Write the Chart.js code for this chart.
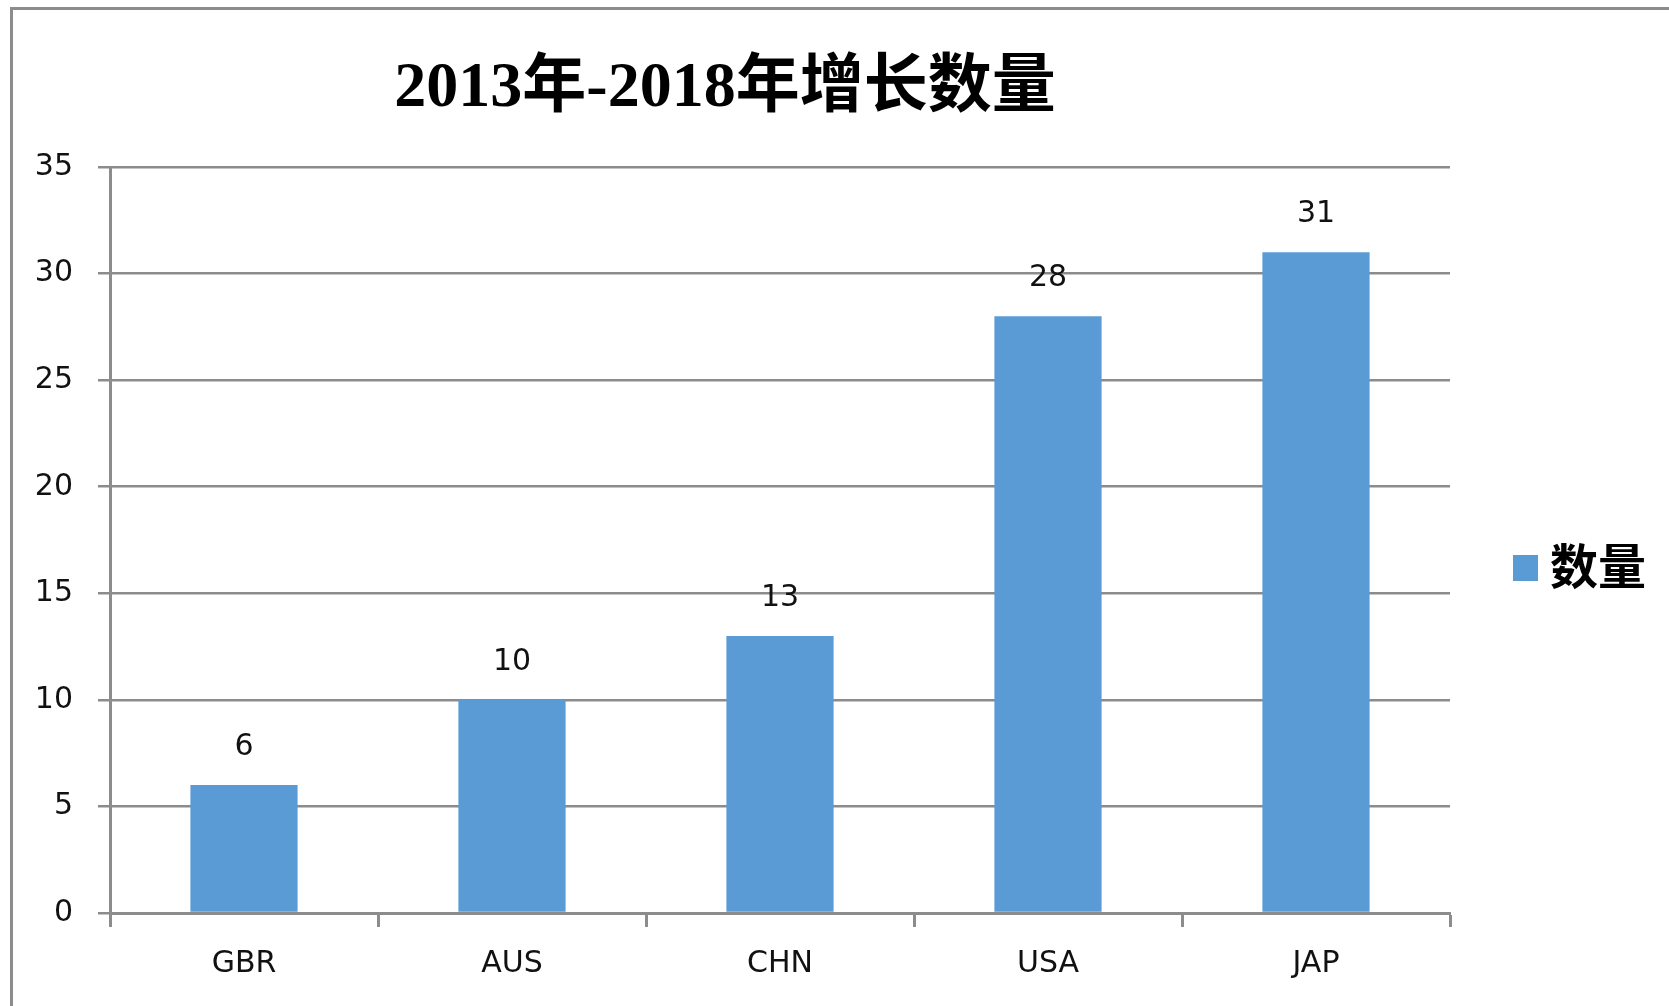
<!DOCTYPE html>
<html>
<head>
<meta charset="utf-8">
<script src="https://cdn.jsdelivr.net/npm/chart.js@4"></script>
<style>
    html, body { margin: 0; padding: 0; background: #fff; overflow: hidden; }
    #wrap { position: relative; width: 1669px; height: 1006px; }
    #frame {
        position: absolute; left: 10px; top: 7px; right: -10px; bottom: -10px;
        border-left: 3px solid #8c8c8c; border-top: 3px solid #8c8c8c;
    }
    #chart { position: absolute; left: 0; top: 0; }
</style>
</head>
<body>
<div id="wrap">
    <div id="frame"></div>
    <canvas id="chart" width="1669" height="1006"></canvas>
</div>
<script>
const chartTitle = '2013年-2018年增长数量';
const seriesName = '数量';
const categories = ['GBR', 'AUS', 'CHN', 'USA', 'JAP'];
const counts = [6, 10, 13, 28, 31];
const yMax = 35;
const yStep = 5;

const barColor = '#5b9bd5';
const lineColor = '#8c8c8c';
const tickFont = { family: '"DejaVu Sans", sans-serif', size: 30 };

// value labels, title and legend drawn on top
const overlay = {
    id: 'overlay',
    afterDatasetsDraw(chart) {
        const ctx = chart.ctx;
        const meta = chart.getDatasetMeta(0);
        ctx.save();
        ctx.font = '30px "DejaVu Sans", sans-serif';
        ctx.fillStyle = '#111';
        ctx.textAlign = 'center';
        ctx.textBaseline = 'middle';
        meta.data.forEach((bar, i) => {
            ctx.fillText(String(chart.data.datasets[0].data[i]), bar.x, bar.y - 38);
        });
        ctx.restore();
    },
    afterDraw(chart) {
        const ctx = chart.ctx;
        ctx.save();
        // title
        ctx.font = 'bold 64px "Liberation Serif", "Noto Sans CJK SC", serif';
        ctx.fillStyle = '#000';
        ctx.textAlign = 'center';
        ctx.textBaseline = 'middle';
        ctx.fillText(chartTitle, 725, 89);
        // legend
        const ds = chart.data.datasets[0];
        ctx.fillStyle = ds.backgroundColor;
        ctx.fillRect(1513, 555, 25, 26);
        ctx.fillStyle = '#000';
        ctx.font = 'bold 48px "Noto Sans CJK SC", sans-serif';
        ctx.textAlign = 'left';
        ctx.fillText(ds.label, 1550, 566);
        ctx.restore();
    }
};

new Chart(document.getElementById('chart'), {
    type: 'bar',
    data: {
        labels: categories,
        datasets: [{
            label: seriesName,
            data: counts,
            backgroundColor: barColor,
            borderWidth: 0,
            categoryPercentage: 1,
            barPercentage: 0.4
        }]
    },
    options: {
        responsive: false,
        animation: false,
        layout: { padding: { left: 0, top: 167, right: 219, bottom: 0 } },
        plugins: {
            legend: { display: false },
            title: { display: false },
            tooltip: { enabled: false }
        },
        scales: {
            x: {
                offset: true,
                grid: {
                    offset: true,
                    drawOnChartArea: false,
                    drawTicks: true,
                    tickLength: 14,
                    tickWidth: 3,
                    tickColor: lineColor
                },
                border: { display: true, color: lineColor, width: 3 },
                ticks: { font: tickFont, color: '#111', padding: 19, maxRotation: 0 },
                afterFit(scale) { scale.height = 93; }
            },
            y: {
                min: 0,
                max: yMax,
                grid: {
                    color: lineColor,
                    lineWidth: 2.5,
                    drawTicks: true,
                    tickLength: 12,
                    tickColor: lineColor
                },
                border: { display: true, color: lineColor, width: 3 },
                ticks: { stepSize: yStep, font: tickFont, color: '#111', padding: 25 },
                afterFit(scale) { scale.width = 110; }
            }
        }
    },
    plugins: [overlay]
});
</script>
</body>
</html>
